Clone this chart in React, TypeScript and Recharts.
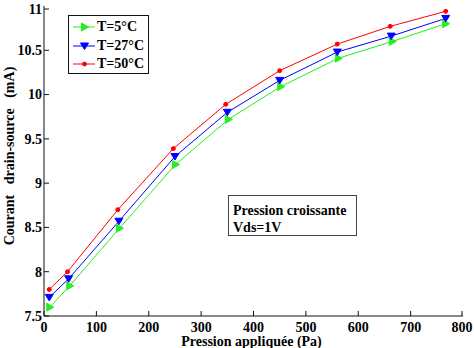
import { LineChart, Line, XAxis, YAxis, Legend } from "recharts"

// pressure (Pa) and drain-source current (mA)
const pressure5 = [11, 49, 144, 251, 352, 452, 562, 665, 767]
const current5 = [7.6, 7.84, 8.49, 9.21, 9.72, 10.09, 10.41, 10.6, 10.8]

const pressure27 = [10, 47, 143, 250, 350, 450, 560, 663, 767]
const current27 = [7.71, 7.92, 8.57, 9.3, 9.8, 10.16, 10.48, 10.66, 10.86]

const pressure50 = [10, 45, 141, 247, 347, 450, 560, 661, 767]
const current50 = [7.8, 8.0, 8.7, 9.39, 9.89, 10.27, 10.57, 10.77, 10.94]

const xTicks = [0, 100, 200, 300, 400, 500, 600, 700, 800]
const yTicks = [7.5, 8, 8.5, 9, 9.5, 10, 10.5, 11]

const FONT = "'Liberation Serif', 'Times New Roman', serif"
const GREEN = "#22ee22"
const BLUE = "#0000ff"
const RED = "#ff0000"
const FRAME = "#111"

const toRows = (xs: number[], ys: number[]) => xs.map((p, i) => ({ p, i: ys[i] }))

const series = [
  { name: "T=5°C", color: GREEN, marker: "right", data: toRows(pressure5, current5) },
  { name: "T=27°C", color: BLUE, marker: "down", data: toRows(pressure27, current27) },
  { name: "T=50°C", color: RED, marker: "dot", data: toRows(pressure50, current50) },
]

function marker(kind: string, cx: number, cy: number, color: string, key?: string) {
  if (kind === "right") {
    return <path key={key} d={`M${cx - 3},${cy - 4}L${cx - 3},${cy + 4}L${cx + 4},${cy}Z`} fill={color} stroke={color} />
  }
  if (kind === "down") {
    return <path key={key} d={`M${cx - 4},${cy - 3}L${cx + 4},${cy - 3}L${cx},${cy + 3.5}Z`} fill={color} stroke={color} />
  }
  return <circle key={key} cx={cx} cy={cy} r={2} fill={color} stroke={color} />
}

const tickText = { fontFamily: FONT, fontWeight: "bold" as const, fontSize: 14, fill: "#000" }

function BottomTick({ x, y, payload }: any) {
  return (
    <g>
      <line x1={x} x2={x} y1={y} y2={y - 5} stroke={FRAME} />
      <text x={x} y={y + 15.5} textAnchor="middle" {...tickText}>
        {payload.value}
      </text>
    </g>
  )
}

function TopTick({ x, y }: any) {
  return <line x1={x} x2={x} y1={y} y2={y + 5} stroke={FRAME} />
}

function LeftTick({ x, y, payload }: any) {
  return (
    <g>
      <line x1={x} x2={x + 5} y1={y} y2={y} stroke={FRAME} />
      <text x={x - 2} y={y} dy="0.35em" textAnchor="end" {...tickText}>
        {payload.value}
      </text>
    </g>
  )
}

function RightTick({ x, y }: any) {
  return <line x1={x} x2={x - 5} y1={y} y2={y} stroke={FRAME} />
}

function LegendBox({ payload }: any) {
  const order = (v: string) => series.findIndex((d) => d.name === v)
  const items = [...(payload || [])].sort((a: any, b: any) => order(a.value) - order(b.value))
  return (
    <div
      style={{
        width: 81,
        height: 59,
        boxSizing: "border-box",
        border: `1px solid ${FRAME}`,
        background: "#fff",
        padding: "2px 0 0 4px",
      }}
    >
      {items.map((entry: any) => {
        const s = series[order(entry.value)] || series[0]
        return (
          <div key={entry.value} style={{ display: "flex", alignItems: "center", height: 18.5 }}>
            <svg width={23} height={12} style={{ display: "block" }}>
              <line x1={0} x2={22} y1={6} y2={6} stroke={s.color} />
              {marker(s.marker, 11.5, 6, s.color)}
            </svg>
            <span style={{ fontFamily: FONT, fontWeight: "bold", fontSize: 14, marginLeft: 1, lineHeight: "14px" }}>
              {entry.value}
            </span>
          </div>
        )
      })}
    </div>
  )
}

export default function App() {
  return (
    <div style={{ position: "absolute", left: 0, top: 0, width: 474, height: 348, background: "#fff" }}>
      <LineChart width={474} height={348} margin={{ top: 6, right: 11, bottom: 0, left: 0 }}>
        <XAxis
          dataKey="p"
          type="number"
          domain={[0, 800]}
          ticks={xTicks}
          allowDataOverflow
          height={32}
          tickSize={0}
          tickMargin={0}
          tickLine={false}
          tick={BottomTick}
          axisLine={{ stroke: FRAME }}
          label={{
            value: "Pression appliquée (Pa)",
            position: "insideBottom",
            offset: 2,
            dx: -2,
            style: { fontFamily: FONT, fontWeight: "bold", fontSize: 14, fill: "#000" },
          }}
        />
        <XAxis
          xAxisId="top"
          orientation="top"
          dataKey="p"
          type="number"
          domain={[0, 800]}
          ticks={xTicks}
          allowDataOverflow
          height={0}
          tickSize={0}
          tickMargin={0}
          tickLine={false}
          tick={TopTick}
          axisLine={{ stroke: FRAME }}
        />
        <YAxis
          type="number"
          domain={[7.5, 11]}
          ticks={yTicks}
          allowDataOverflow
          width={44}
          tickSize={0}
          tickMargin={0}
          tickLine={false}
          tick={LeftTick}
          axisLine={{ stroke: FRAME }}
          label={{
            value: "Courant\u00a0\u00a0 drain-source\u00a0\u00a0 (mA)",
            angle: -90,
            position: "center",
            dx: -13,
            dy: -5,
            style: { fontFamily: FONT, fontWeight: "bold", fontSize: 14, fill: "#000" },
          }}
        />
        <YAxis
          yAxisId="right"
          orientation="right"
          type="number"
          domain={[7.5, 11]}
          ticks={yTicks}
          allowDataOverflow
          width={0}
          tickSize={0}
          tickMargin={0}
          tickLine={false}
          tick={RightTick}
          axisLine={{ stroke: FRAME }}
        />
        {series.map((s) => (
          <Line
            key={s.name}
            name={s.name}
            data={s.data}
            dataKey="i"
            stroke={s.color}
            strokeWidth={1}
            isAnimationActive={false}
            activeDot={false}
            dot={(props: any) => marker(s.marker, props.cx, props.cy, s.color, `${s.name}-${props.index}`)}
          />
        ))}
        <Legend
          layout="vertical"
          align="center"
          verticalAlign="middle"
          wrapperStyle={{ position: "absolute", left: 68, top: 15, width: "auto", height: "auto" }}
          content={LegendBox}
        />
      </LineChart>
      <div
        style={{
          position: "absolute",
          left: 228,
          top: 195,
          width: 129,
          height: 41,
          boxSizing: "border-box",
          border: "1px solid #444",
          background: "#fff",
          padding: "6px 0 0 4px",
          fontFamily: FONT,
          fontWeight: "bold",
          fontSize: 14,
          lineHeight: "17px",
          color: "#000",
        }}
      >
        Pression croissante
        <br />
        Vds=1V
      </div>
    </div>
  )
}
